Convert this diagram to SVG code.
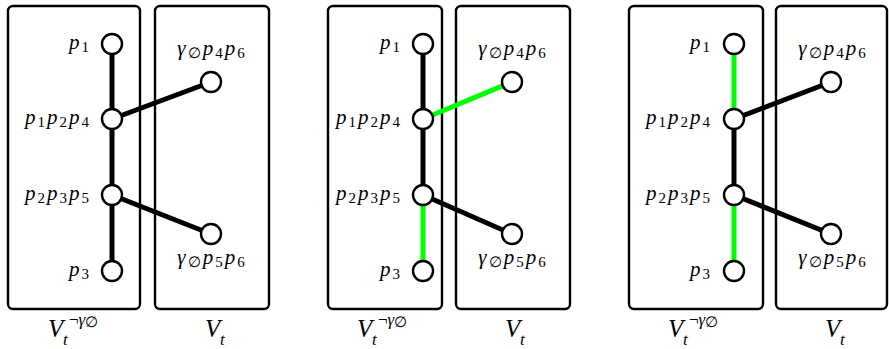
<svg xmlns="http://www.w3.org/2000/svg" width="889" height="349" viewBox="0 0 889 349">
<style>
.box{fill:none;stroke:#000;stroke-width:2.4}
.e{stroke:#000;stroke-width:5;stroke-linecap:butt}
.g{stroke:#00ff00;stroke-width:5;stroke-linecap:butt}
.n{fill:#fff;stroke:#000;stroke-width:2.4}
text{font-family:"Liberation Serif","DejaVu Serif",serif;fill:#000}
.l{font-size:21px;letter-spacing:2px}
.i{font-style:italic}
.s{font-size:15px}
.b{font-size:25px}
.bs{font-size:17px}
</style>

<!-- Panel 1 -->
<g id="panel1">
<rect class="box" x="8" y="6" width="132" height="303" rx="5"/>
<rect class="box" x="155" y="6" width="114" height="303" rx="5"/>
<g id="edges1">
<line class="e" x1="112" y1="44" x2="112" y2="119"/>
<line class="e" x1="112" y1="119" x2="112" y2="195"/>
<line class="e" x1="112" y1="195" x2="112" y2="271"/>
<line class="e" x1="112" y1="119" x2="211" y2="82"/>
<line class="e" x1="112" y1="195" x2="211" y2="234"/>
</g>
<g id="p1_a"><circle class="n" cx="112" cy="44" r="10"/><text class="l" x="91" y="49" text-anchor="end"><tspan class="i">p</tspan><tspan class="s" dy="3">1</tspan></text></g>
<g id="p1p2p4_a"><circle class="n" cx="112" cy="119" r="10"/><text class="l" x="91" y="124" text-anchor="end"><tspan class="i">p</tspan><tspan class="s" dy="3">1</tspan><tspan class="i" dy="-3">p</tspan><tspan class="s" dy="3">2</tspan><tspan class="i" dy="-3">p</tspan><tspan class="s" dy="3">4</tspan></text></g>
<g id="p2p3p5_a"><circle class="n" cx="112" cy="195" r="10"/><text class="l" x="91" y="200" text-anchor="end"><tspan class="i">p</tspan><tspan class="s" dy="3">2</tspan><tspan class="i" dy="-3">p</tspan><tspan class="s" dy="3">3</tspan><tspan class="i" dy="-3">p</tspan><tspan class="s" dy="3">5</tspan></text></g>
<g id="p3_a"><circle class="n" cx="112" cy="271" r="10"/><text class="l" x="91" y="276" text-anchor="end"><tspan class="i">p</tspan><tspan class="s" dy="3">3</tspan></text></g>
<g id="gp4p6_a"><circle class="n" cx="211" cy="82" r="10"/><text class="l" x="212" y="55" text-anchor="middle"><tspan class="i">γ</tspan><tspan class="s" dy="3">∅</tspan><tspan class="i" dy="-3">p</tspan><tspan class="s" dy="3">4</tspan><tspan class="i" dy="-3">p</tspan><tspan class="s" dy="3">6</tspan></text></g>
<g id="gp5p6_a"><circle class="n" cx="211" cy="234" r="10"/><text class="l" x="212" y="264" text-anchor="middle"><tspan class="i">γ</tspan><tspan class="s" dy="3">∅</tspan><tspan class="i" dy="-3">p</tspan><tspan class="s" dy="3">5</tspan><tspan class="i" dy="-3">p</tspan><tspan class="s" dy="3">6</tspan></text></g>
<text><tspan class="b i" x="48" y="337">V</tspan><tspan class="bs i" x="63" y="345">t</tspan><tspan class="bs" x="69" y="325">¬</tspan><tspan class="bs i">γ</tspan><tspan class="s" dy="2">∅</tspan></text>
<text><tspan class="b i" x="205" y="337">V</tspan><tspan class="bs i" x="220" y="345">t</tspan></text>
</g>

<!-- Panel 2 -->
<g id="panel2">
<rect class="box" x="328" y="6" width="114" height="303" rx="5"/>
<rect class="box" x="456" y="6" width="114" height="303" rx="5"/>
<g id="edges2">
<line class="e" x1="423" y1="44" x2="423" y2="119"/>
<line class="e" x1="423" y1="119" x2="423" y2="195"/>
<line class="g" x1="423" y1="195" x2="423" y2="271"/>
<line class="g" x1="423" y1="119" x2="512" y2="82"/>
<line class="e" x1="423" y1="195" x2="512" y2="234"/>
</g>
<g id="p1_b"><circle class="n" cx="423" cy="44" r="10"/><text class="l" x="402" y="49" text-anchor="end"><tspan class="i">p</tspan><tspan class="s" dy="3">1</tspan></text></g>
<g id="p1p2p4_b"><circle class="n" cx="423" cy="119" r="10"/><text class="l" x="402" y="124" text-anchor="end"><tspan class="i">p</tspan><tspan class="s" dy="3">1</tspan><tspan class="i" dy="-3">p</tspan><tspan class="s" dy="3">2</tspan><tspan class="i" dy="-3">p</tspan><tspan class="s" dy="3">4</tspan></text></g>
<g id="p2p3p5_b"><circle class="n" cx="423" cy="195" r="10"/><text class="l" x="402" y="200" text-anchor="end"><tspan class="i">p</tspan><tspan class="s" dy="3">2</tspan><tspan class="i" dy="-3">p</tspan><tspan class="s" dy="3">3</tspan><tspan class="i" dy="-3">p</tspan><tspan class="s" dy="3">5</tspan></text></g>
<g id="p3_b"><circle class="n" cx="423" cy="271" r="10"/><text class="l" x="402" y="276" text-anchor="end"><tspan class="i">p</tspan><tspan class="s" dy="3">3</tspan></text></g>
<g id="gp4p6_b"><circle class="n" cx="512" cy="82" r="10"/><text class="l" x="513" y="55" text-anchor="middle"><tspan class="i">γ</tspan><tspan class="s" dy="3">∅</tspan><tspan class="i" dy="-3">p</tspan><tspan class="s" dy="3">4</tspan><tspan class="i" dy="-3">p</tspan><tspan class="s" dy="3">6</tspan></text></g>
<g id="gp5p6_b"><circle class="n" cx="512" cy="234" r="10"/><text class="l" x="513" y="264" text-anchor="middle"><tspan class="i">γ</tspan><tspan class="s" dy="3">∅</tspan><tspan class="i" dy="-3">p</tspan><tspan class="s" dy="3">5</tspan><tspan class="i" dy="-3">p</tspan><tspan class="s" dy="3">6</tspan></text></g>
<text><tspan class="b i" x="357" y="337">V</tspan><tspan class="bs i" x="372" y="345">t</tspan><tspan class="bs" x="378" y="325">¬</tspan><tspan class="bs i">γ</tspan><tspan class="s" dy="2">∅</tspan></text>
<text><tspan class="b i" x="505" y="337">V</tspan><tspan class="bs i" x="520" y="345">t</tspan></text>
</g>

<!-- Panel 3 -->
<g id="panel3">
<rect class="box" x="629" y="6" width="134" height="303" rx="5"/>
<rect class="box" x="776" y="6" width="111" height="303" rx="5"/>
<g id="edges3">
<line class="g" x1="734" y1="44" x2="734" y2="119"/>
<line class="e" x1="734" y1="119" x2="734" y2="195"/>
<line class="g" x1="734" y1="195" x2="734" y2="271"/>
<line class="e" x1="734" y1="119" x2="831" y2="82"/>
<line class="e" x1="734" y1="195" x2="831" y2="234"/>
</g>
<g id="p1_c"><circle class="n" cx="734" cy="44" r="10"/><text class="l" x="712" y="49" text-anchor="end"><tspan class="i">p</tspan><tspan class="s" dy="3">1</tspan></text></g>
<g id="p1p2p4_c"><circle class="n" cx="734" cy="119" r="10"/><text class="l" x="712" y="124" text-anchor="end"><tspan class="i">p</tspan><tspan class="s" dy="3">1</tspan><tspan class="i" dy="-3">p</tspan><tspan class="s" dy="3">2</tspan><tspan class="i" dy="-3">p</tspan><tspan class="s" dy="3">4</tspan></text></g>
<g id="p2p3p5_c"><circle class="n" cx="734" cy="195" r="10"/><text class="l" x="712" y="200" text-anchor="end"><tspan class="i">p</tspan><tspan class="s" dy="3">2</tspan><tspan class="i" dy="-3">p</tspan><tspan class="s" dy="3">3</tspan><tspan class="i" dy="-3">p</tspan><tspan class="s" dy="3">5</tspan></text></g>
<g id="p3_c"><circle class="n" cx="734" cy="271" r="10"/><text class="l" x="712" y="276" text-anchor="end"><tspan class="i">p</tspan><tspan class="s" dy="3">3</tspan></text></g>
<g id="gp4p6_c"><circle class="n" cx="831" cy="82" r="10"/><text class="l" x="833" y="55" text-anchor="middle"><tspan class="i">γ</tspan><tspan class="s" dy="3">∅</tspan><tspan class="i" dy="-3">p</tspan><tspan class="s" dy="3">4</tspan><tspan class="i" dy="-3">p</tspan><tspan class="s" dy="3">6</tspan></text></g>
<g id="gp5p6_c"><circle class="n" cx="831" cy="234" r="10"/><text class="l" x="833" y="264" text-anchor="middle"><tspan class="i">γ</tspan><tspan class="s" dy="3">∅</tspan><tspan class="i" dy="-3">p</tspan><tspan class="s" dy="3">5</tspan><tspan class="i" dy="-3">p</tspan><tspan class="s" dy="3">6</tspan></text></g>
<text><tspan class="b i" x="668" y="337">V</tspan><tspan class="bs i" x="683" y="345">t</tspan><tspan class="bs" x="689" y="325">¬</tspan><tspan class="bs i">γ</tspan><tspan class="s" dy="2">∅</tspan></text>
<text><tspan class="b i" x="825" y="337">V</tspan><tspan class="bs i" x="840" y="345">t</tspan></text>
</g>
</svg>
